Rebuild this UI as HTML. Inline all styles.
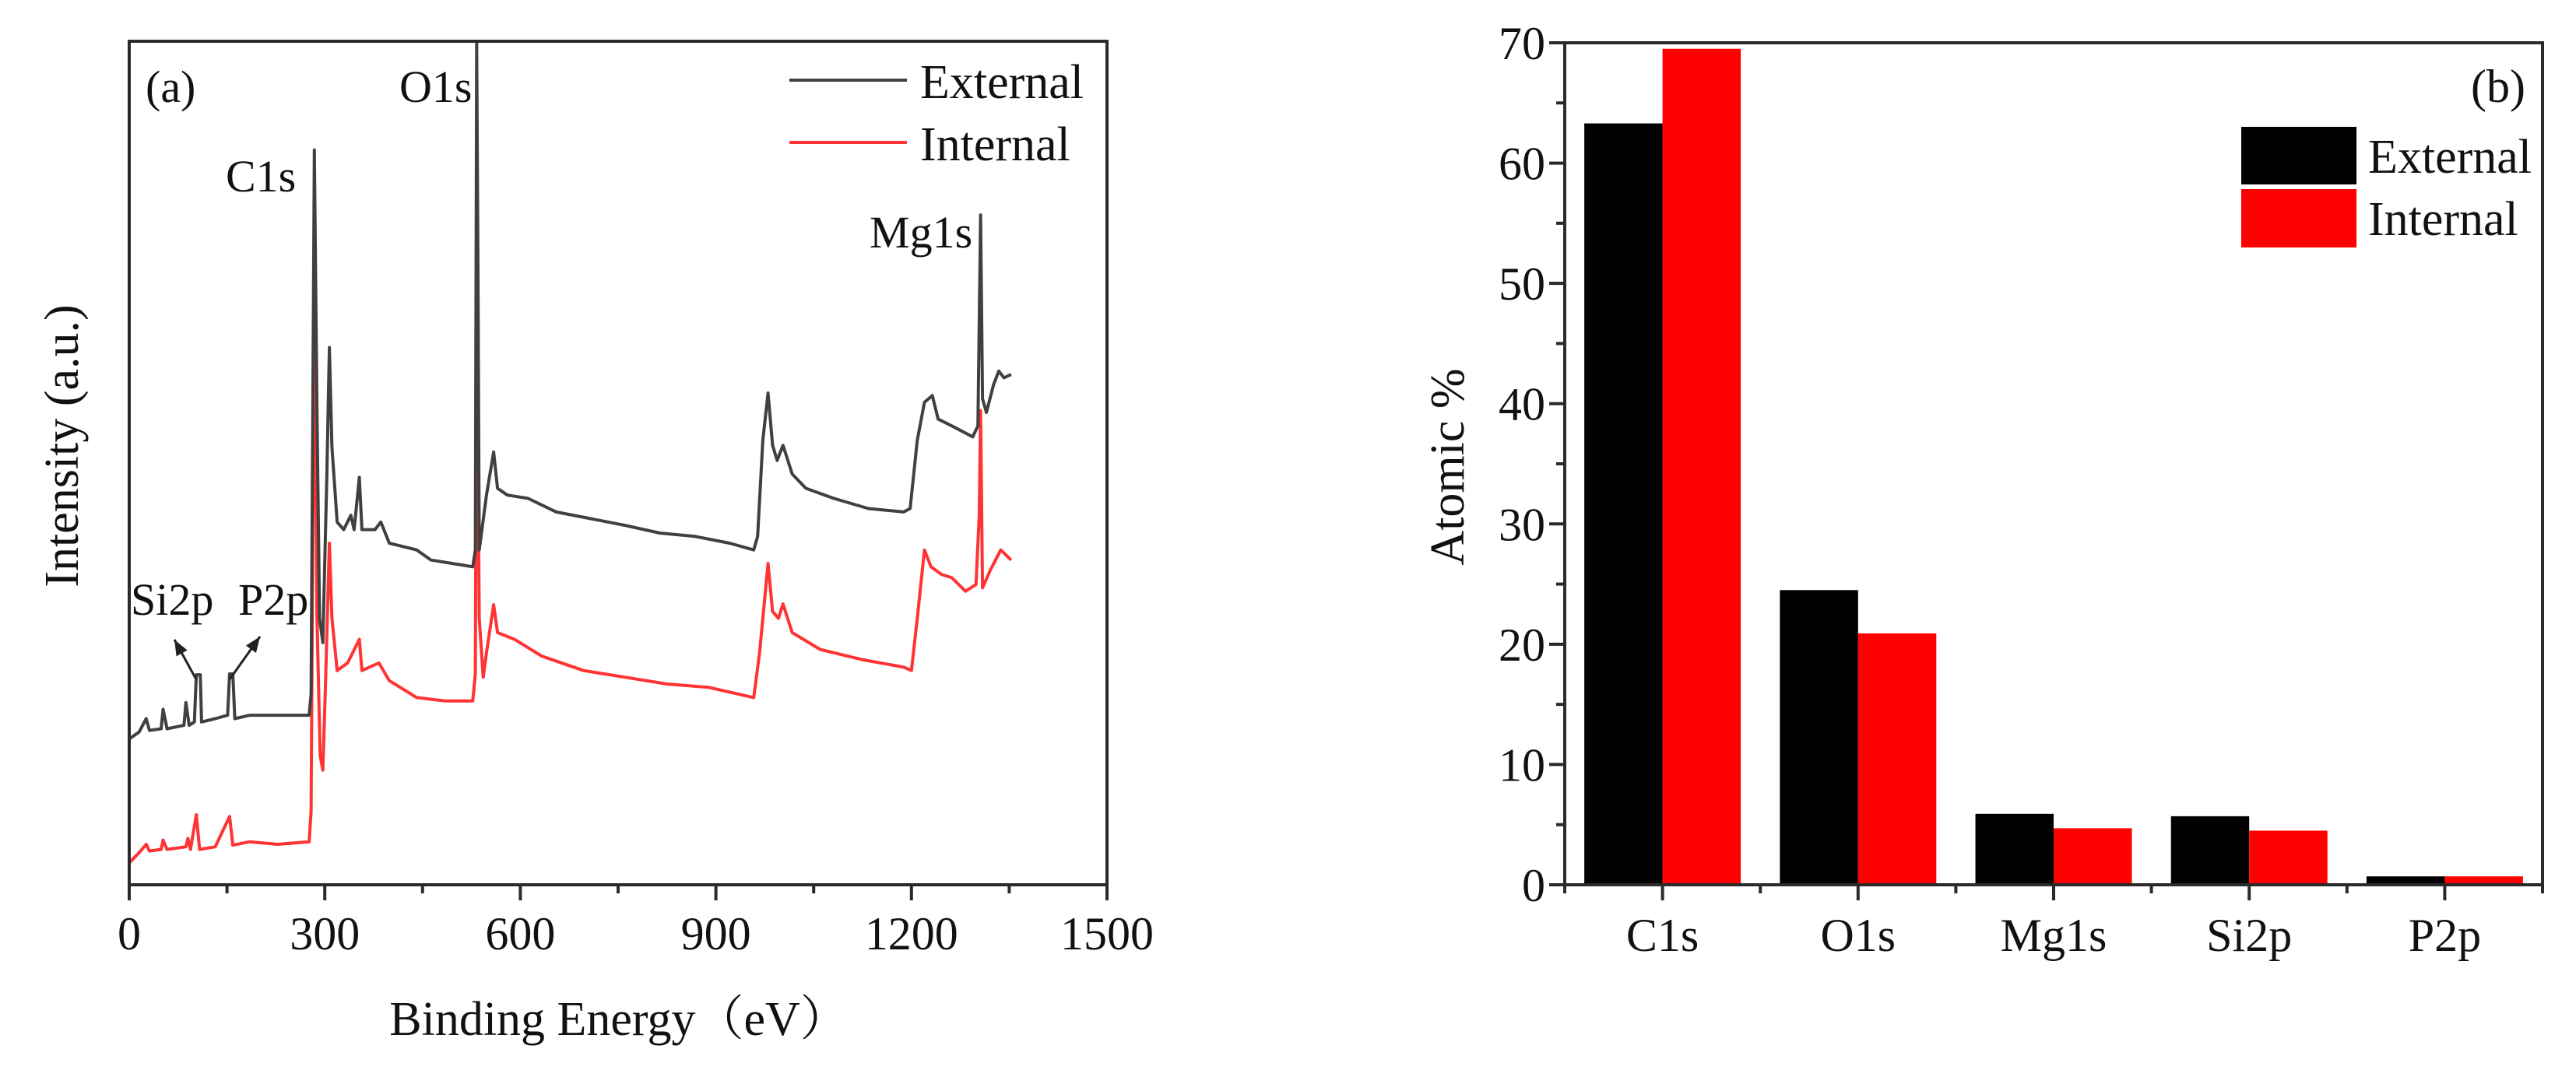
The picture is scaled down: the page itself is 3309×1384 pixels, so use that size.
<!DOCTYPE html>
<html><head><meta charset="utf-8">
<style>
html,body{margin:0;padding:0;background:#fff;}
svg{display:block;font-family:"Liberation Serif","Noto Serif CJK SC","Noto Sans CJK SC",serif;}
</style></head>
<body>
<svg id="fig" width="3309" height="1384" viewBox="0 0 3309 1384" xmlns="http://www.w3.org/2000/svg">
<rect width="3309" height="1384" fill="#fff"/>
<g id="panelA"></g>
<g id="panelB"></g>
</svg>
<script>
// ---- Panel (a) data: binding energy (eV) and intensity (a.u., 0-100 frame) ----
const extEnergy = [0,15,26,31,49,52,58,84,87,92,100,103,109,111,132,151,154,159,162,185,228,276,279,284,288,292,297,303,307,311,319,329,340,345,353,357,377,386,399,441,463,495,527,531,533,535,537,548,559,565,580,612,655,708,761,814,868,921,958,964,972,980,987,994,1003,1017,1038,1081,1134,1188,1198,1209,1220,1232,1241,1262,1294,1302,1306,1309,1315,1326,1334,1342,1353];
const extIntensity = [17.3,18.1,19.7,18.3,18.5,20.8,18.5,18.9,21.6,18.9,19.3,24.9,24.9,19.3,19.7,20.1,25.0,25.0,19.7,20.1,20.1,20.1,22.6,87.1,56.0,31.6,28.7,47.9,63.7,51.9,43.0,42.1,43.8,42.1,48.3,42.1,42.1,43.0,40.5,39.7,38.5,38.1,37.7,39.7,99.8,72.3,39.7,46.2,51.3,47.0,46.2,45.8,44.2,43.4,42.6,41.7,41.3,40.5,39.7,41.3,52.7,58.3,52.1,50.3,52.1,48.7,47.0,45.8,44.6,44.2,44.6,52.7,57.2,58.0,55.2,54.4,53.1,54.4,79.4,57.6,56.0,59.3,60.9,60.1,60.5];
const intEnergy = [0,15,26,31,49,52,58,87,90,94,103,108,132,154,159,185,228,276,279,284,288,293,297,301,307,311,319,335,353,357,383,399,441,484,527,531,533,537,543,548,559,565,591,633,697,761,825,889,958,967,980,987,996,1003,1017,1060,1124,1188,1200,1209,1220,1230,1246,1262,1283,1299,1304,1306,1309,1321,1337,1353];
const intIntensity = [2.6,3.8,4.8,4.0,4.2,5.3,4.2,4.5,5.5,4.2,8.3,4.2,4.5,8.1,4.7,5.1,4.8,5.1,8.7,71.5,31.6,15.3,13.6,23.4,40.5,31.6,25.4,26.3,29.1,25.4,26.3,24.2,22.2,21.8,21.8,25.0,72.7,31.6,24.6,27.5,33.2,29.9,29.1,27.1,25.4,24.6,23.8,23.4,22.2,27.5,38.1,32.4,31.6,33.3,29.9,27.9,26.7,25.8,25.4,31.6,39.7,37.7,36.8,36.4,34.8,35.6,43.8,56.2,35.2,37.3,39.7,38.5];
const xTickLabels = ["0","300","600","900","1200","1500"];
const xTickValues = [0,300,600,900,1200,1500];

// ---- Panel (b) data ----
const categories = ["C1s","O1s","Mg1s","Si2p","P2p"];
const externalPct = [63.3,24.5,5.9,5.7,0.7];
const internalPct = [69.5,20.9,4.7,4.5,0.7];
const yTickValues = [0,10,20,30,40,50,60,70];
const yTickLabels = ["0","10","20","30","40","50","60","70"];

const NS="http://www.w3.org/2000/svg";
function mk(parent,tag,attrs,text){const e=document.createElementNS(NS,tag);for(const k in attrs)e.setAttribute(k,attrs[k]);if(text!==undefined)e.textContent=text;parent.appendChild(e);return e;}

// ===== Panel A =====
const A=document.getElementById('panelA');
const aL=166,aR=1422,aT=53,aB=1137;
const ax=v=>aL+(v-0)/(1500-0)*(aR-aL);
const ay=v=>aB-(v/100)*(aB-aT);
function drawLine(xs,ys,color,name){
  let d='';
  for(let i=0;i<xs.length;i++){d+=(i?'L':'M')+ax(xs[i]).toFixed(1)+','+Math.max(aT,ay(ys[i])).toFixed(1);}
  const p=mk(A,'path',{d:d,fill:'none',stroke:color,'stroke-width':4,'stroke-linejoin':'round'});
  
  
}
drawLine(intEnergy,intIntensity,'#ff3333','internal-spectrum');
drawLine(extEnergy,extIntensity,'#404040','external-spectrum');
const frameA=mk(A,'rect',{x:aL,y:aT,width:aR-aL,height:aB-aT,fill:'none',stroke:'#2a2a2a','stroke-width':4});


for(let v=0;v<=1500;v+=150){
  const major=v%300===0;
  const t=mk(A,'line',{x1:ax(v),x2:ax(v),y1:aB,y2:aB+(major?20:11),stroke:'#2a2a2a','stroke-width':4});
  
  
}
xTickValues.forEach((v,i)=>{
  const t=mk(A,'text',{x:ax(v),y:1220,'text-anchor':'middle','font-size':60,fill:'#111'},xTickLabels[i]);
  
  
});
</script>
<script>
(function(){
const A=document.getElementById('panelA');
function t(x,y,s,size,name,anchor){const e=document.createElementNS("http://www.w3.org/2000/svg",'text');e.setAttribute('x',x);e.setAttribute('y',y);e.setAttribute('font-size',size);e.setAttribute('fill','#111');if(anchor)e.setAttribute('text-anchor',anchor);e.textContent=s;A.appendChild(e);return e;}
let e;
e=t(795,1330,'Binding Energy（eV）',62,'','middle');


e=t(0,0,'Intensity (a.u.)',62,'','middle');e.setAttribute('transform','translate(100,573) rotate(-90)');


e=t(187,131,'(a)',58);


e=t(513,131,'O1s',58);


e=t(290,246,'C1s',58);


e=t(1117,318,'Mg1s',58);


e=t(168,790,'Si2p',58);


e=t(306,790,'P2p',58);


const NS="http://www.w3.org/2000/svg";
function arrow(x1,y1,x2,y2,name){
  const g=document.createElementNS(NS,'g');A.appendChild(g);
  
  
  const l=document.createElementNS(NS,'line');l.setAttribute('x1',x1);l.setAttribute('y1',y1);l.setAttribute('x2',x2);l.setAttribute('y2',y2);l.setAttribute('stroke','#222');l.setAttribute('stroke-width',3);g.appendChild(l);
  const ang=Math.atan2(y2-y1,x2-x1),L=20,W=8;
  const bx=x2-L*Math.cos(ang),by=y2-L*Math.sin(ang);
  const p=document.createElementNS(NS,'polygon');
  p.setAttribute('points',`${x2},${y2} ${bx+W*Math.sin(ang)},${by-W*Math.cos(ang)} ${bx-W*Math.sin(ang)},${by+W*Math.cos(ang)}`);
  p.setAttribute('fill','#222');g.appendChild(p);
}
arrow(252,873,224,822,'arrow-si2p');
arrow(295,873,334,818,'arrow-p2p');
const lg=document.createElementNS(NS,'g');A.appendChild(lg);


function ll(y,c){const l=document.createElementNS(NS,'line');l.setAttribute('x1',1014);l.setAttribute('x2',1165);l.setAttribute('y1',y);l.setAttribute('y2',y);l.setAttribute('stroke',c);l.setAttribute('stroke-width',4);lg.appendChild(l);}
ll(103,'#404040');ll(183,'#ff3333');
e=t(1182,126,'External',62);


e=t(1182,206,'Internal',62);


})();
</script>
<script>
(function(){
const B=document.getElementById('panelB');
const NS="http://www.w3.org/2000/svg";
function mk(tag,attrs,text){const e=document.createElementNS(NS,tag);for(const k in attrs)e.setAttribute(k,attrs[k]);if(text!==undefined)e.textContent=text;B.appendChild(e);return e;}
const bL=2010,bR=3266,bT=55,bB=1137;
const step=(bR-bL)/categories.length;
const bx=i=>bL+(i+0.5)*step;
const by=v=>bB-v/70*(bB-bT);
const bw=step*0.4;
categories.forEach((c,i)=>{
  const r1=mk('rect',{x:bx(i)-bw,y:by(externalPct[i]),width:bw,height:bB-by(externalPct[i]),fill:'#000'});
  
  
  const r2=mk('rect',{x:bx(i),y:by(internalPct[i]),width:bw,height:bB-by(internalPct[i]),fill:'#ff0000'});
  
  
  const tl=mk('text',{x:bx(i),y:1222,'text-anchor':'middle','font-size':60,fill:'#111'},c);
  
  
  const tk=mk('line',{x1:bx(i),x2:bx(i),y1:bB,y2:bB+20,stroke:'#2a2a2a','stroke-width':4});
  
  
});
for(let i=0;i<=categories.length;i++){
  const tk=mk('line',{x1:bL+i*step,x2:bL+i*step,y1:bB,y2:bB+11,stroke:'#2a2a2a','stroke-width':4});
  
  
}
const fr=mk('rect',{x:bL,y:bT,width:bR-bL,height:bB-bT,fill:'none',stroke:'#2a2a2a','stroke-width':4});


for(let v=0;v<=70;v+=5){
  const major=v%10===0;
  const tk=mk('line',{x1:bL-(major?20:11),x2:bL,y1:by(v),y2:by(v),stroke:'#2a2a2a','stroke-width':4});
  
  
}
yTickValues.forEach((v,i)=>{
  const tl=mk('text',{x:1985,y:by(v)+21,'text-anchor':'end','font-size':60,fill:'#111'},yTickLabels[i]);
  
  
});
const yt=mk('text',{x:0,y:0,'text-anchor':'middle','font-size':62,fill:'#111',transform:'translate(1880,600) rotate(-90)'},'Atomic %');


const pl=mk('text',{x:3244,y:131,'text-anchor':'end','font-size':60,fill:'#111'},'(b)');


const s1=mk('rect',{x:2879,y:163,width:148,height:74,fill:'#000'});


const s2=mk('rect',{x:2879,y:243,width:148,height:75,fill:'#ff0000'});


const l1=mk('text',{x:3042,y:222,'font-size':62,fill:'#111'},'External');


const l2=mk('text',{x:3042,y:302,'font-size':62,fill:'#111'},'Internal');


})();
</script>
</body></html>
